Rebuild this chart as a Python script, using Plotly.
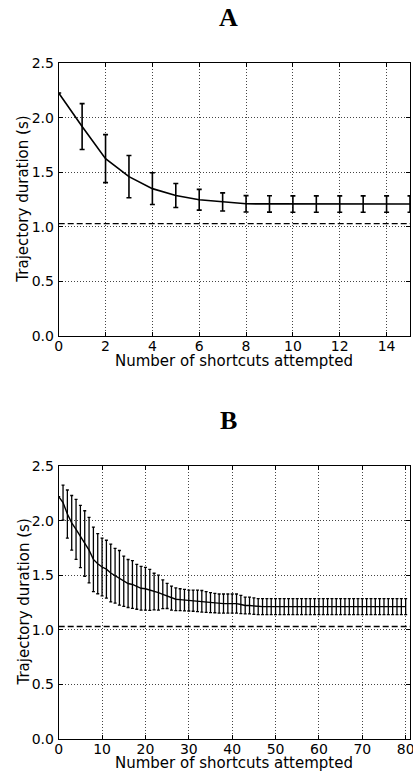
import plotly.graph_objects as go

# ---------------- data ----------------
a_x = list(range(0, 16))
a_mean = [2.228, 1.92, 1.626, 1.461, 1.351, 1.288, 1.249, 1.229, 1.212, 1.211,
          1.21, 1.21, 1.21, 1.21, 1.21, 1.21]
a_err = [0.0, 0.21, 0.22, 0.194, 0.145, 0.11, 0.095, 0.083, 0.075, 0.075,
         0.075, 0.075, 0.075, 0.075, 0.075, 0.075]

b_x = list(range(0, 81))
b_mean = [2.22, 2.165, 2.06, 1.98, 1.92, 1.855, 1.79, 1.73, 1.645, 1.605,
          1.575, 1.555, 1.52, 1.495, 1.476, 1.444, 1.424, 1.415, 1.394, 1.38,
          1.376, 1.366, 1.35, 1.34, 1.325, 1.31, 1.29, 1.28, 1.276, 1.272,
          1.268, 1.267, 1.265, 1.261, 1.255, 1.249, 1.245, 1.24, 1.24, 1.24,
          1.24, 1.24, 1.232, 1.223, 1.222, 1.217, 1.212, 1.212, 1.212, 1.212,
          1.212, 1.212, 1.212, 1.212, 1.212, 1.212, 1.212, 1.212, 1.212, 1.212,
          1.212, 1.212, 1.212, 1.212, 1.212, 1.212, 1.212, 1.212, 1.212, 1.212,
          1.212, 1.212, 1.212, 1.212, 1.212, 1.212, 1.212, 1.212, 1.212, 1.212,
          1.212]
b_err = [0.0, 0.16, 0.22, 0.25, 0.275, 0.285, 0.30, 0.30, 0.295, 0.275,
         0.265, 0.265, 0.265, 0.25, 0.25, 0.23, 0.22, 0.218, 0.206, 0.20,
         0.195, 0.188, 0.168, 0.16, 0.132, 0.115, 0.11, 0.104, 0.10, 0.098,
         0.096, 0.097, 0.099, 0.099, 0.095, 0.091, 0.089, 0.088, 0.088, 0.088,
         0.088, 0.088, 0.083, 0.077, 0.077, 0.075, 0.073, 0.073, 0.073, 0.073,
         0.073, 0.073, 0.073, 0.073, 0.073, 0.073, 0.073, 0.073, 0.073, 0.073,
         0.073, 0.073, 0.073, 0.073, 0.073, 0.073, 0.073, 0.073, 0.073, 0.073,
         0.073, 0.073, 0.073, 0.073, 0.073, 0.073, 0.073, 0.073, 0.073, 0.073,
         0.073]

reference_level = 1.03
y_ticks = [0.0, 0.5, 1.0, 1.5, 2.0, 2.5]
a_xticks = [0, 2, 4, 6, 8, 10, 12, 14]
b_xticks = [0, 10, 20, 30, 40, 50, 60, 70, 80]
panel_titles = ["A", "B"]
x_title = "Number of shortcuts attempted"
y_title = "Trajectory duration (s)"

# ---------------- figure ----------------
W, H = 413, 773
fig = go.Figure()

fig.add_trace(go.Scatter(
    x=a_x, y=a_mean, mode="lines", xaxis="x", yaxis="y",
    line=dict(color="black", width=1.6),
    error_y=dict(type="data", array=a_err, visible=True, color="black",
                 thickness=1.6, width=2.5),
    showlegend=False))
fig.add_trace(go.Scatter(
    x=[0, 15], y=[reference_level] * 2, mode="lines", xaxis="x", yaxis="y",
    line=dict(color="black", width=1.4, dash="6px,3px"), showlegend=False))

fig.add_trace(go.Scatter(
    x=b_x, y=b_mean, mode="lines", xaxis="x2", yaxis="y2",
    line=dict(color="black", width=1.4),
    error_y=dict(type="data", array=b_err, visible=True, color="black",
                 thickness=1.3, width=1.5),
    showlegend=False))
fig.add_trace(go.Scatter(
    x=[0, 81], y=[reference_level] * 2, mode="lines", xaxis="x2", yaxis="y2",
    line=dict(color="black", width=1.4, dash="6px,3px"), showlegend=False))

x_dom = [58.7 / W, 410.0 / W]
ya_dom = [(H - 336.0) / H, (H - 63.3) / H]
yb_dom = [(H - 739.0) / H, (H - 466.0) / H]

tick_font = dict(family="DejaVu Sans", size=14, color="black")
common_axis = dict(
    showline=True, linecolor="black", linewidth=1, mirror="allticks",
    ticks="inside", ticklen=4, tickcolor="black", tickwidth=1,
    showgrid=True, gridcolor="#444444", gridwidth=0.8, griddash="1px,2px",
    zeroline=False, tickfont=tick_font,
    automargin=False, ticklabeloverflow="allow",
)

fig.update_layout(
    width=W, height=H,
    margin=dict(l=0, r=0, t=0, b=0),
    paper_bgcolor="white", plot_bgcolor="white",
    xaxis=dict(domain=x_dom, anchor="y", range=[0, 15], tickvals=a_xticks,
               ticklabelstandoff=-3, **common_axis),
    yaxis=dict(domain=ya_dom, anchor="x", range=[0, 2.5], tickvals=y_ticks,
               tickformat=".1f", ticklabelstandoff=1, **common_axis),
    xaxis2=dict(domain=x_dom, anchor="y2", range=[0, 81], tickvals=b_xticks,
                ticklabelstandoff=-3, **common_axis),
    yaxis2=dict(domain=yb_dom, anchor="x2", range=[0, 2.5], tickvals=y_ticks,
                tickformat=".1f", ticklabelstandoff=1, **common_axis),
)

def py(pix):
    return (H - pix) / H

title_font = dict(family="Liberation Serif", size=26, color="black")
label_font = dict(family="DejaVu Sans", size=15, color="black")
annotations = [
    dict(text="<b>%s</b>" % panel_titles[0], x=228 / W, y=py(18), xref="paper",
         yref="paper", xanchor="center", yanchor="middle", showarrow=False,
         font=title_font),
    dict(text="<b>%s</b>" % panel_titles[1], x=228 / W, y=py(420), xref="paper",
         yref="paper", xanchor="center", yanchor="middle", showarrow=False,
         font=title_font),
    dict(text=x_title, x=(58.7 + 410) / 2 / W, y=py(361), xref="paper",
         yref="paper", xanchor="center", yanchor="middle", showarrow=False,
         font=label_font),
    dict(text=x_title, x=(58.7 + 410) / 2 / W, y=py(763), xref="paper",
         yref="paper", xanchor="center", yanchor="middle", showarrow=False,
         font=label_font),
    dict(text=y_title, x=23 / W, y=py((63.3 + 336) / 2), xref="paper",
         yref="paper", xanchor="center", yanchor="middle", showarrow=False,
         textangle=-90, font=label_font),
    dict(text=y_title, x=23 / W, y=py((466 + 739) / 2), xref="paper",
         yref="paper", xanchor="center", yanchor="middle", showarrow=False,
         textangle=-90, font=label_font),
]
fig.update_layout(annotations=annotations)

fig.write_html(
    "out.html",
    config={"displayModeBar": False},
    post_script="document.body.style.margin='0';document.body.style.overflow='hidden';",
)
